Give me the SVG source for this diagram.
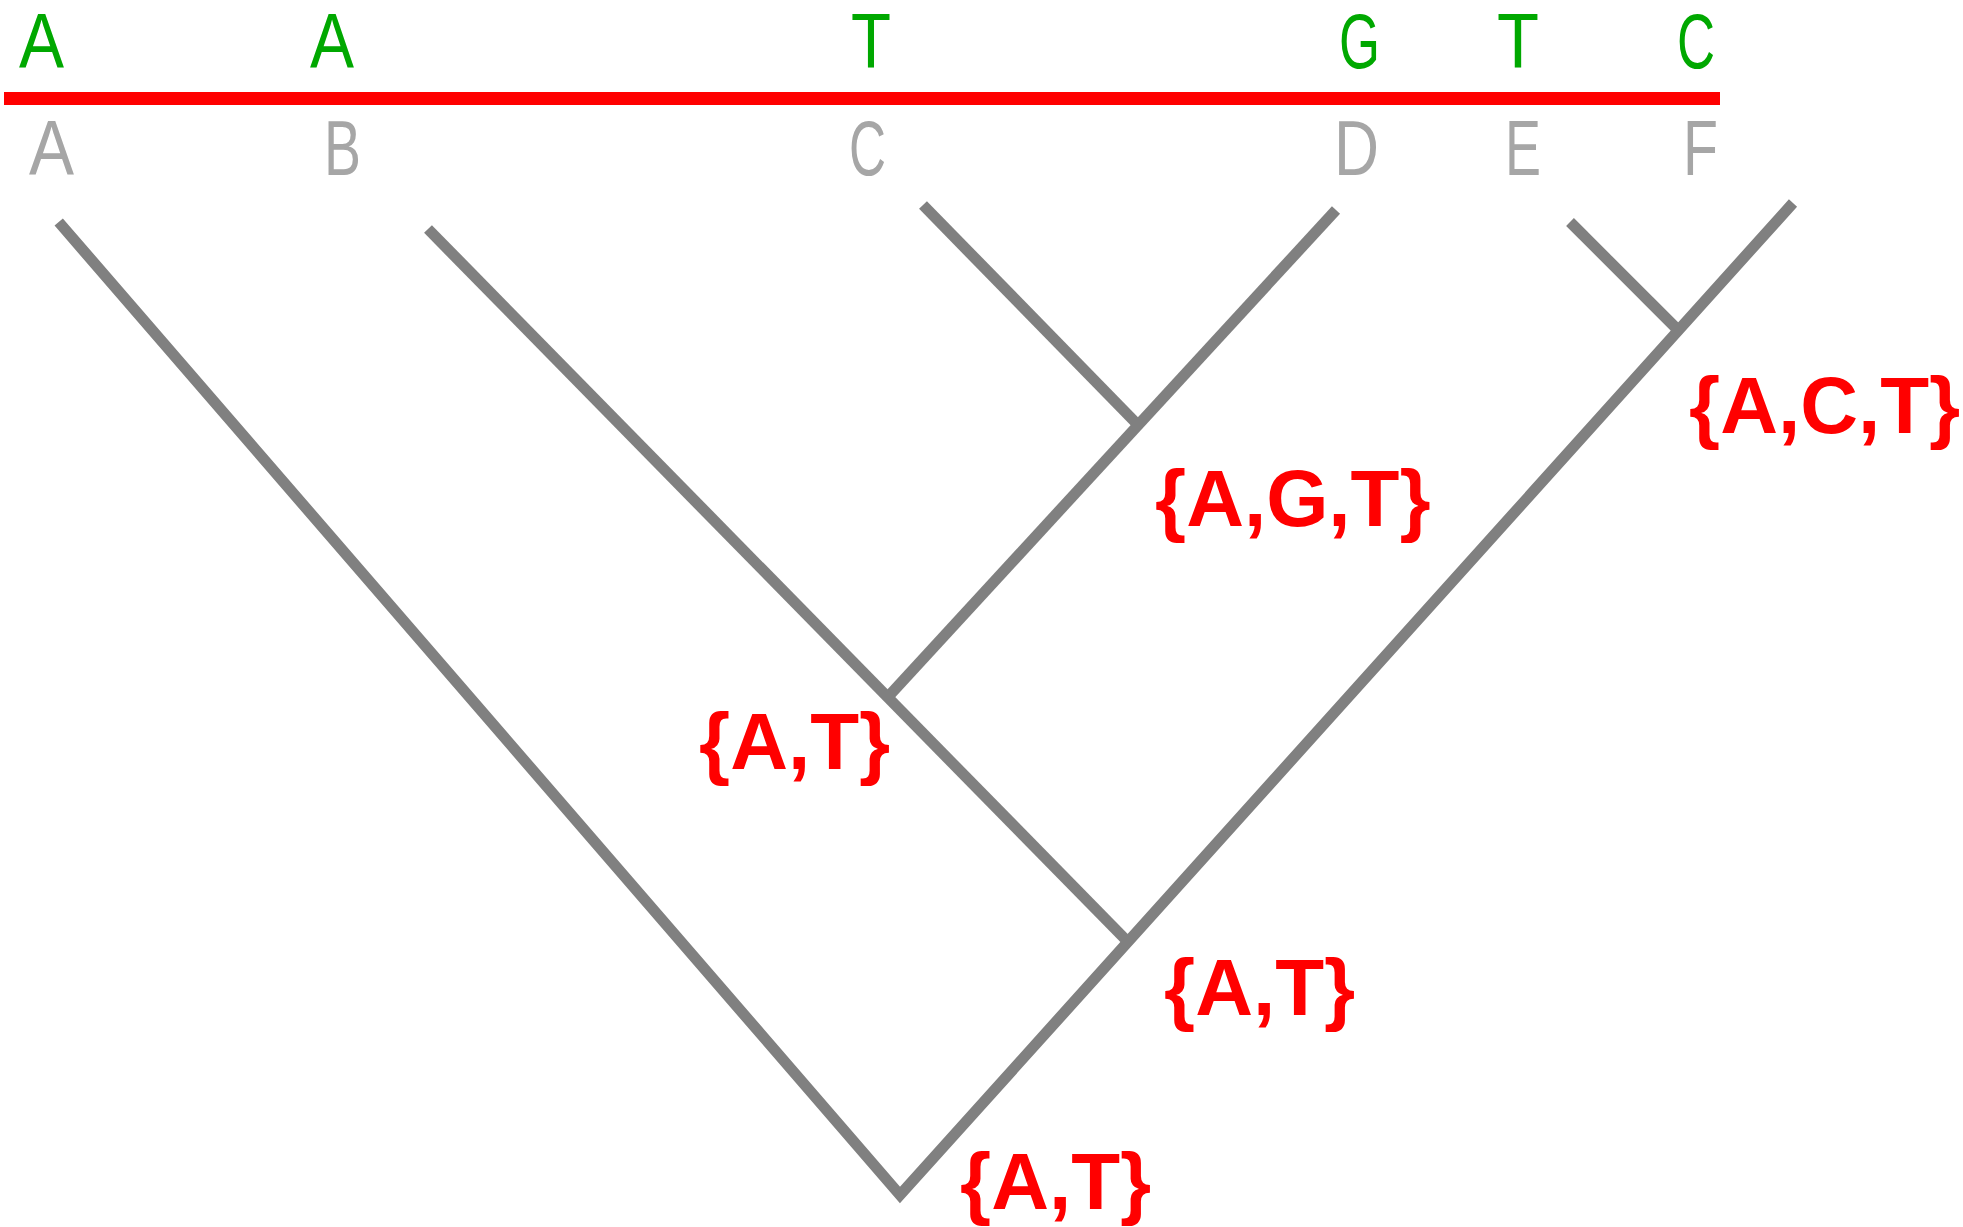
<svg xmlns="http://www.w3.org/2000/svg" width="1963" height="1227" viewBox="0 0 1963 1227">
<style>
.base{font-family:"Liberation Sans",Arial,sans-serif;font-size:78px;fill:#00A800}
.leaf{font-family:"Liberation Sans",Arial,sans-serif;font-size:78px;fill:#A6A6A6}
.set{font-family:"Liberation Sans",Arial,sans-serif;font-size:80px;font-weight:bold;fill:#FF0000}
.edge{stroke:#808080;stroke-width:11;fill:none;stroke-linecap:butt;stroke-linejoin:miter}
</style>
<rect x="0" y="0" width="1963" height="1227" fill="#FFFFFF"/>
<g id="sequence">
<text class="base" x="19" y="68" textLength="45" lengthAdjust="spacingAndGlyphs">A</text>
<text class="base" x="310" y="68" textLength="44" lengthAdjust="spacingAndGlyphs">A</text>
<text class="base" x="851" y="68" textLength="40" lengthAdjust="spacingAndGlyphs">T</text>
<text class="base" x="1339" y="68" textLength="41" lengthAdjust="spacingAndGlyphs">G</text>
<text class="base" x="1497" y="68" textLength="42" lengthAdjust="spacingAndGlyphs">T</text>
<text class="base" x="1677" y="68" textLength="38" lengthAdjust="spacingAndGlyphs">C</text>
<rect x="4" y="92" width="1716" height="13" fill="#FF0000"/>
</g>
<g id="connectors">
<polyline class="edge" points="58.7,222 900,1195 1793,203"/>
<line class="edge" x1="428" y1="229" x2="1128" y2="942"/>
<line class="edge" x1="923" y1="205" x2="1138" y2="425"/>
<line class="edge" x1="1336" y1="210" x2="887" y2="698"/>
<line class="edge" x1="1570" y1="222" x2="1678" y2="330"/>
</g>
<g id="leaf-A"><text class="leaf" x="29" y="175" textLength="45" lengthAdjust="spacingAndGlyphs">A</text></g>
<g id="leaf-B"><text class="leaf" x="324" y="175" textLength="37" lengthAdjust="spacingAndGlyphs">B</text></g>
<g id="leaf-C"><text class="leaf" x="849" y="175" textLength="37" lengthAdjust="spacingAndGlyphs">C</text></g>
<g id="leaf-D"><text class="leaf" x="1334" y="175" textLength="45" lengthAdjust="spacingAndGlyphs">D</text></g>
<g id="leaf-E"><text class="leaf" x="1505" y="175" textLength="36" lengthAdjust="spacingAndGlyphs">E</text></g>
<g id="leaf-F"><text class="leaf" x="1683" y="175" textLength="35" lengthAdjust="spacingAndGlyphs">F</text></g>
<g id="node-EF"><text class="set" x="1689" y="433">{A,C,T}</text></g>
<g id="node-CD"><text class="set" x="1155" y="526">{A,G,T}</text></g>
<g id="node-BCD"><text class="set" x="699" y="769">{A,T}</text></g>
<g id="node-BCDEF"><text class="set" x="1164" y="1015">{A,T}</text></g>
<g id="node-root"><text class="set" x="960" y="1209">{A,T}</text></g>
</svg>
